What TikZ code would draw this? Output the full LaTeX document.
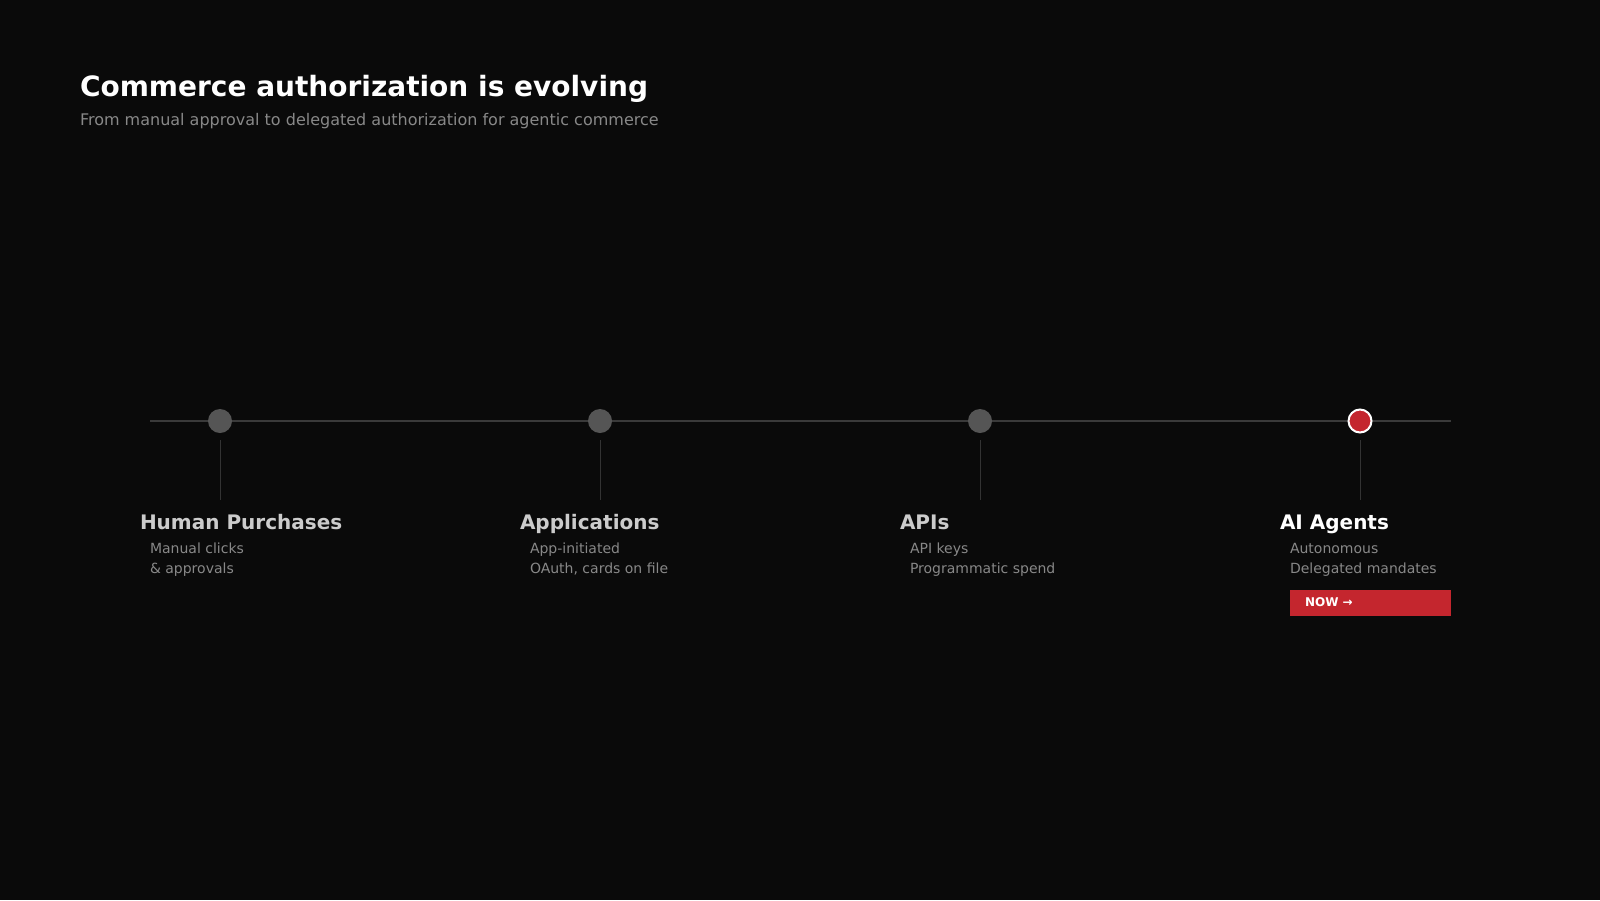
\documentclass[tikz,border=0pt]{standalone}
\usepackage{fontspec}
\setmainfont{DejaVu Sans}
\definecolor{bg}{HTML}{0A0A0A}
\definecolor{dotgray}{HTML}{555555}
\definecolor{linegray}{HTML}{3A3A3A}
\definecolor{tickgray}{HTML}{333333}
\definecolor{headgray}{HTML}{CCCCCC}
\definecolor{descgray}{HTML}{888888}
\definecolor{accent}{HTML}{C4262E}
\tikzset{
  txt/.style={inner sep=0pt, outer sep=0pt, anchor=base west},
  heading/.style={txt, text=headgray, font=\fontsize{20}{24}\selectfont\bfseries},
  desc/.style={txt, text=descgray, font=\fontsize{14}{17}\selectfont},
  dot/.style={circle, fill=dotgray, minimum size=24pt, inner sep=0pt},
  activedot/.style={circle, fill=accent, draw=white, line width=2pt, minimum size=23pt, inner sep=0pt},
  tick/.style={draw=tickgray, line width=1pt},
}
\begin{document}
\begin{tikzpicture}[x=1pt,y=-1pt]
\fill[bg] (0,0) rectangle (1600,900);
\useasboundingbox (0,0) rectangle (1600,900);
% title
\node[txt, text=white, font=\fontsize{28}{32}\selectfont\bfseries] (title) at (80,96) {Commerce authorization is evolving};
\node[txt, text=descgray, font=\fontsize{16}{19}\selectfont] (subtitle) at (80,125) {From manual approval to delegated authorization for agentic commerce};
% timeline
\coordinate (lstart) at (150,421);
\coordinate (lend) at (1451,421);
\draw[draw=linegray, line width=2pt] (lstart) -- (lend);
\node[dot] (d1) at (220,421) {};
\node[dot] (d2) at (600,421) {};
\node[dot] (d3) at (980,421) {};
\node[activedot] (d4) at (1360,421) {};
% ticks
\foreach \i/\x in {1/220,2/600,3/980,4/1360}{
  \coordinate (t\i a) at (\x,440);
  \coordinate (t\i b) at (\x,500);
  \draw[tick] (t\i a) -- (t\i b);
}
% labels
\node[heading] (h1) at (140,529) {Human Purchases};
\node[desc] (a1) at (150,553) {Manual clicks};
\node[desc] (b1) at (150,573) {\& approvals};
\node[heading] (h2) at (520,529) {Applications};
\node[desc] (a2) at (530,553) {App-initiated};
\node[desc] (b2) at (530,573) {OAuth, cards on file};
\node[heading] (h3) at (900,529) {APIs};
\node[desc] (a3) at (910,553) {API keys};
\node[desc] (b3) at (910,573) {Programmatic spend};
\node[heading, text=white] (h4) at (1280,529) {AI Agents};
\node[desc] (a4) at (1290,553) {Autonomous};
\node[desc] (b4) at (1290,573) {Delegated mandates};
% NOW badge
\fill[accent] (1290,590) rectangle (1451,616);
\node[txt, text=white, font=\fontsize{12}{14}\selectfont\bfseries] (now) at (1305,606) {NOW →};
\end{tikzpicture}
\end{document}
